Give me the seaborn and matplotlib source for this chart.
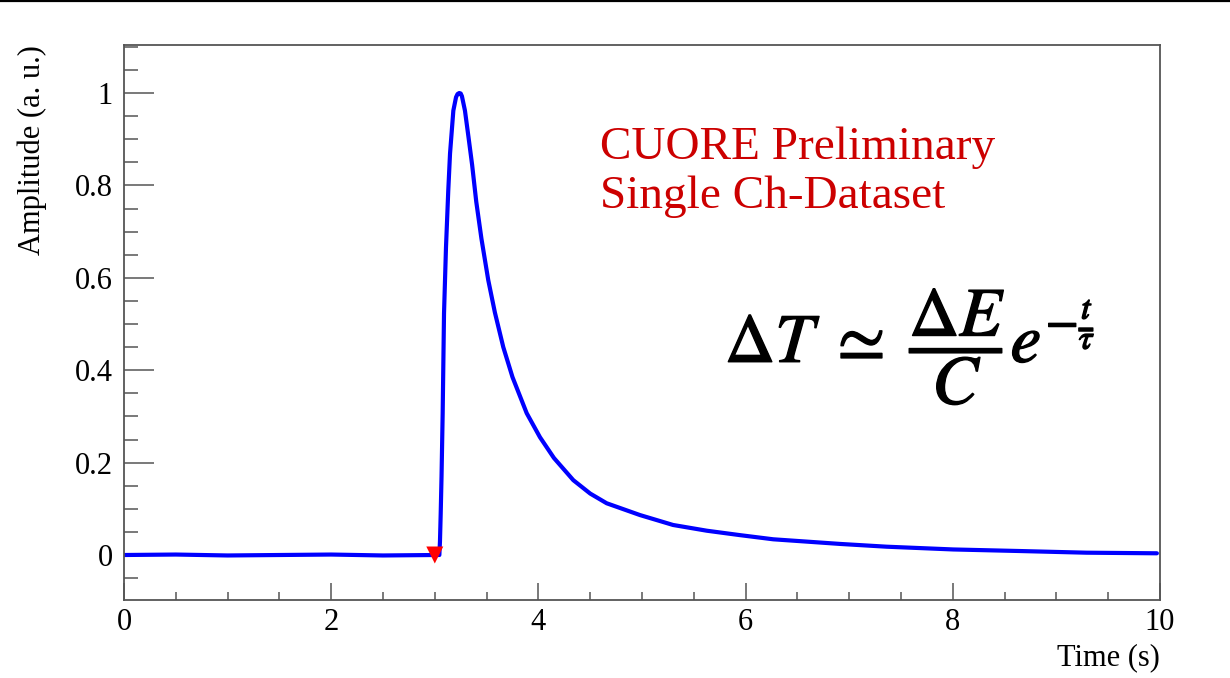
import matplotlib
matplotlib.use("Agg")
import matplotlib.pyplot as plt
import matplotlib.patheffects as pe
from matplotlib.lines import Line2D
from matplotlib.ticker import MultipleLocator
import seaborn as sns

# ---- data ----
time_s = [0.0, 0.5, 1.0, 1.5, 2.0, 2.5, 3.0, 3.044, 3.05, 3.057, 3.065, 3.076,
          3.089, 3.108, 3.13, 3.147, 3.179, 3.205, 3.22, 3.236, 3.25, 3.262,
          3.291, 3.325, 3.36, 3.40, 3.45, 3.516, 3.58, 3.661, 3.75, 3.887,
          4.015, 4.15, 4.337, 4.5, 4.659, 4.98, 5.30, 5.625, 5.946, 6.267,
          6.59, 6.91, 7.36, 8.005, 8.65, 9.29, 9.97]
amplitude = [0.0, 0.001, -0.001, 0.0, 0.001, -0.001, 0.0, 0.0, 0.03, 0.09,
             0.17, 0.307, 0.523, 0.666, 0.789, 0.869, 0.962, 0.991, 0.998,
             1.0, 0.999, 0.993, 0.962, 0.905, 0.845, 0.765, 0.685, 0.595,
             0.525, 0.45, 0.385, 0.307, 0.255, 0.21, 0.162, 0.133, 0.112,
             0.0865, 0.065, 0.0526, 0.043, 0.034, 0.029, 0.024, 0.018, 0.012,
             0.0086, 0.005, 0.0037]
trigger_t = [3.0]
trigger_amp = [0.0]

x_ticks = [0, 2, 4, 6, 8, 10]
y_ticks = [0, 0.2, 0.4, 0.6, 0.8, 1.0]
y_ticklabels = ["0", "0.2", "0.4", "0.6", "0.8", "1"]

sns.set_theme(style="white")
plt.rcParams["font.family"] = ["Liberation Serif", "DejaVu Serif"]
plt.rcParams["mathtext.fontset"] = "stix"

fig = plt.figure(figsize=(12.3, 6.78), dpi=100)
ax = fig.add_axes([124 / 1230, 1 - 600 / 678, (1160 - 124) / 1230, (600 - 45) / 678])

sns.lineplot(x=time_s, y=amplitude, ax=ax, color="#0000ff", lw=3.0,
             sort=False, estimator=None, solid_joinstyle="round",
             solid_capstyle="round")
sns.scatterplot(x=trigger_t, y=trigger_amp, ax=ax, marker="v", color="#ff0000",
                s=150, edgecolor="none", zorder=5)

ax.set_xlim(0, 10)
ax.set_ylim(-0.0974, 1.104)
ax.set_xticks(x_ticks)
ax.set_xticklabels([str(v) for v in x_ticks])
ax.set_yticks(y_ticks)
ax.set_yticklabels(y_ticklabels)
ax.xaxis.set_minor_locator(MultipleLocator(0.5))
ax.yaxis.set_minor_locator(MultipleLocator(0.05))

spine_c = "#555555"
for s in ax.spines.values():
    s.set_color(spine_c)
    s.set_linewidth(1.3)
    s.set_visible(True)

ax.tick_params(axis="y", which="major", direction="in", length=21.5, width=1.1,
               color=spine_c, labelsize=22, labelcolor="black", pad=8,
               left=True, right=False)
ax.tick_params(axis="y", which="minor", direction="in", length=10, width=1.1,
               color=spine_c, left=True, right=False)
ax.tick_params(axis="x", which="major", direction="in", length=12, width=1.1,
               color=spine_c, labelsize=22, labelcolor="black", pad=6,
               bottom=True, top=False)
ax.tick_params(axis="x", which="minor", direction="in", length=6, width=1.1,
               color=spine_c, bottom=True, top=False)
ax.grid(False)

ax.set_xlabel("Time (s)", fontsize=22, loc="right", labelpad=4, color="black")
ax.set_ylabel("Amplitude (a. u.)", fontsize=22, loc="top", labelpad=20,
              color="black")

ax.text(0.459, 0.771, "CUORE Preliminary\nSingle Ch-Dataset", transform=ax.transAxes,
        color="#cc0000", fontsize=34, ha="left", va="center", linespacing=1.22)

ax.text(0.759, 0.455,
        r"$\Delta T\;\simeq\;\dfrac{\Delta E}{C}e^{-\frac{t}{\tau}}$",
        transform=ax.transAxes, fontsize=50, ha="center", va="center",
        color="black",
        path_effects=[pe.withStroke(linewidth=1.0, foreground="black")])

fig.add_artist(Line2D([0, 1], [0.999, 0.999], transform=fig.transFigure,
                      color="black", lw=1.6))

fig.savefig("out.png", dpi=100, facecolor="white")
